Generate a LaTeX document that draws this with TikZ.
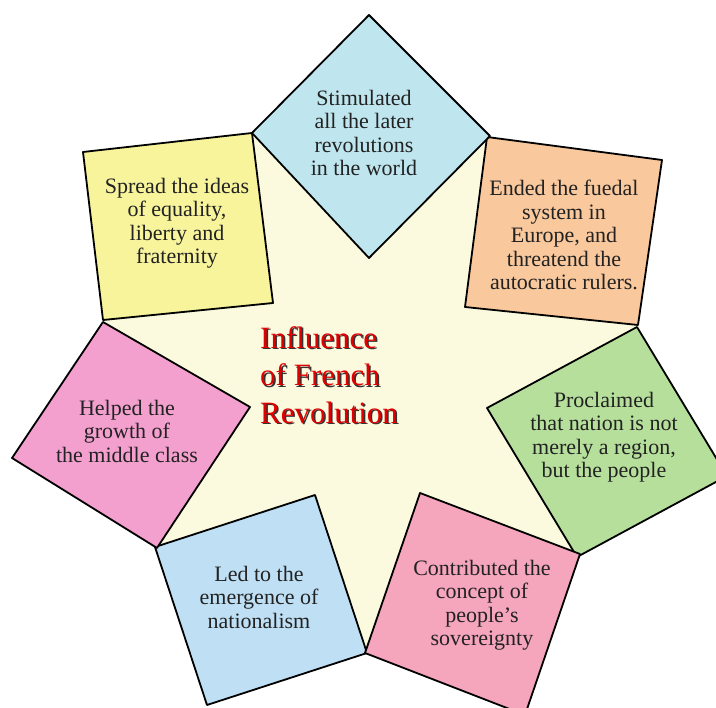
\documentclass[tikz,border=0pt]{standalone}
\usepackage{fontspec}
\setmainfont{Liberation Serif}
\definecolor{starbg}{HTML}{FBFADF}
\definecolor{cBlue}{HTML}{BFE6EE}
\definecolor{cOrange}{HTML}{F9C89C}
\definecolor{cGreen}{HTML}{B6DF9C}
\definecolor{cPink}{HTML}{F5A5BC}
\definecolor{cLight}{HTML}{BFE0F4}
\definecolor{cMagenta}{HTML}{F4A0CF}
\definecolor{cYellow}{HTML}{F7F49C}
\definecolor{textgray}{HTML}{222222}
\definecolor{titlered}{HTML}{E00000}
\begin{document}
\begin{tikzpicture}[x=1pt,y=-1pt,
  box/.style={draw=black, line width=1.8pt, line join=round},
  lbl/.style={align=center, font=\fontsize{22}{23.5}\selectfont, text=textgray, inner sep=0pt},
  ttl/.style={align=left, font=\fontsize{31}{37.5}\selectfont, inner sep=0pt, anchor=west}]
\useasboundingbox (0,0) rectangle (716,708);
\clip (0,0) rectangle (716,708);
% vertices
\coordinate (b1) at (369,15);  \coordinate (b2) at (490,136); \coordinate (b3) at (369,258); \coordinate (b4) at (252,133);
\coordinate (o1) at (487,137); \coordinate (o2) at (662,160); \coordinate (o3) at (638,325); \coordinate (o4) at (465,307);
\coordinate (g1) at (637,327); \coordinate (g2) at (727,476); \coordinate (g3) at (577,557); \coordinate (g4) at (487,408);
\coordinate (p1) at (420,493); \coordinate (p2) at (580,554); \coordinate (p3) at (525,715); \coordinate (p4) at (365,653);
\coordinate (l1) at (155,547); \coordinate (l2) at (315,495); \coordinate (l3) at (367,653); \coordinate (l4) at (207,705);
\coordinate (m1) at (103,322); \coordinate (m2) at (250,407); \coordinate (m3) at (157,548); \coordinate (m4) at (12,458);
\coordinate (y1) at (83,152);  \coordinate (y2) at (252,133); \coordinate (y3) at (273,303); \coordinate (y4) at (103,320);
% star background
\fill[starbg] (b4) -- (b2) -- (o3) -- (g3) -- (p4) -- (l1) -- (m1) -- cycle;
% squares
\filldraw[box, fill=cYellow] (y1) -- (y2) -- (y3) -- (y4) -- cycle;
\filldraw[box, fill=cOrange] (o1) -- (o2) -- (o3) -- (o4) -- cycle;
\filldraw[box, fill=cBlue] (b1) -- (b2) -- (b3) -- (b4) -- cycle;
\filldraw[box, fill=cGreen] (g1) -- (g2) -- (g3) -- (g4) -- cycle;
\filldraw[box, fill=cLight] (l1) -- (l2) -- (l3) -- (l4) -- cycle;
\filldraw[box, fill=cPink] (p1) -- (p2) -- (p3) -- (p4) -- cycle;
\filldraw[box, fill=cMagenta] (m1) -- (m2) -- (m3) -- (m4) -- cycle;
% labels
\node[lbl] (tBlue) at (364,133) {Stimulated\\all the later\\revolutions\\in the world};
\node[lbl] (tOrange) at (564,235) {Ended the fuedal\\system in\\Europe, and\\threatend the\\autocratic rulers.};
\node[lbl] (tGreen) at (604,437) {Proclaimed\\that nation is not\\merely a region,\\but the people};
\node[lbl] (tPink) at (482,605) {Contributed the\\concept of\\people's\\sovereignty};
\node[lbl] (tLight) at (259,597) {Led to the\\emergence of\\nationalism};
\node[lbl] (tMagenta) at (127,431) {Helped the\\growth of\\the middle class};
\node[lbl] (tYellow) at (177,223) {Spread the ideas\\of equality,\\liberty and\\fraternity};
% title with shadow
\node[ttl, text=black!80] (titleShadow) at (261.5,376.5) {Influence\\of French\\Revolution};
\node[ttl, text=titlered] (title) at (260,375) {Influence\\of French\\Revolution};
\end{tikzpicture}
\end{document}
